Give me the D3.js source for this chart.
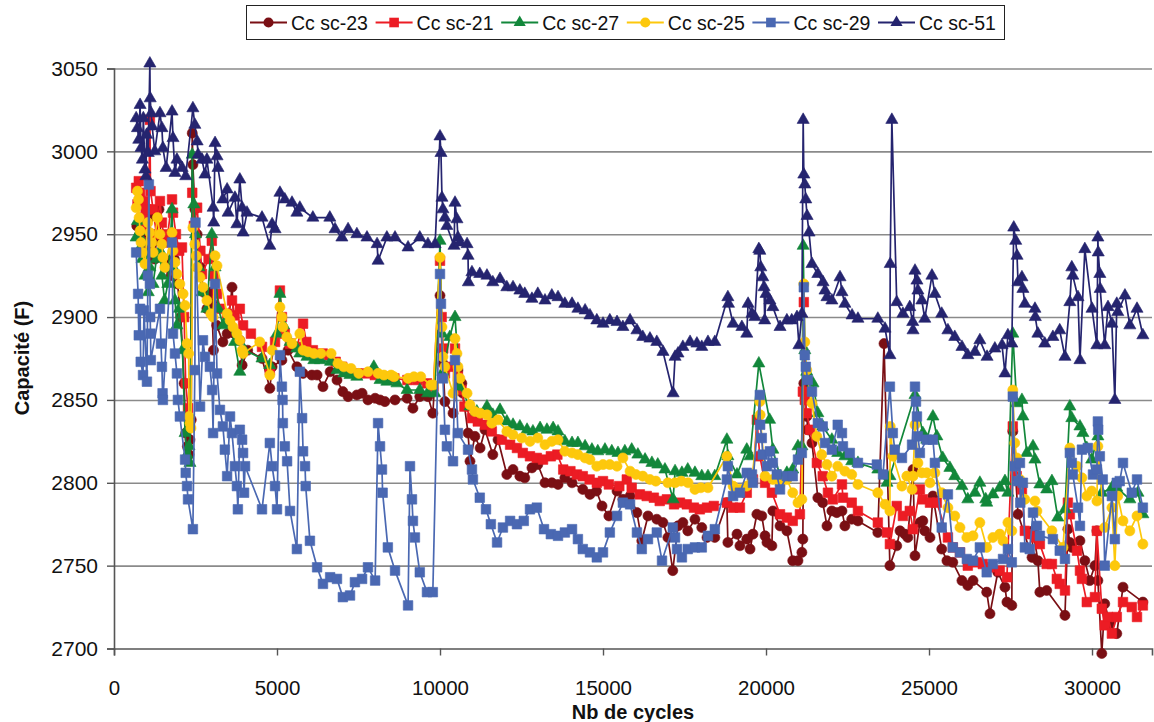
<!DOCTYPE html>
<html>
<head>
<meta charset="utf-8">
<script src="https://cdn.jsdelivr.net/npm/d3@7"></script>
<style>
  body { margin: 0; background: #fff; }
  svg { display: block; font-family: "Liberation Sans", Arial, sans-serif; }
</style>
</head>
<body>
<svg id="chart" width="1154" height="722"></svg>
<script>
// [nb de cycles, capacité (F)]
const sc23 = [[700,2955],[780,2948],[850,2940],[920,2950],[1000,2945],[1080,2960],[1150,2940],[1250,2935],[1380,2965],[1450,2945],[1550,2935],[1650,2930],[1750,2925],[1850,2935],[1950,2920],[2050,2900],[2150,2860],[2200,2830],[2250,2822],[2300,2817],[2330,2826],[2370,2838],[2400,3011],[2420,2992],[2480,2965],[2550,2950],[2650,2930],[2750,2915],[2850,2905],[2950,2915],[3000,2909],[3050,2880],[3150,2895],[3340,2885],[3470,2890],[3620,2918],[3700,2890],[3860,2886],[3930,2871],[4100,2880],[4540,2875],[4780,2857],[4850,2870],[5150,2874],[5340,2880],[5610,2870],[5800,2866],[6070,2865],[6230,2865],[6410,2858],[6630,2867],[6840,2862],[7020,2855],[7180,2852],[7450,2853],[7610,2854],[7790,2850],[8010,2851],[8160,2850],[8310,2849],[8620,2850],[8990,2851],[9170,2845],[9380,2852],[9630,2852],[9780,2842],[10000,2913],[10060,2880],[10090,2872],[10150,2849],[10400,2842],[10550,2868],[10670,2860],[10700,2854],[10860,2830],[10920,2813],[11070,2828],[11230,2821],[11380,2832],[11620,2817],[11780,2826],[12050,2805],[12240,2808],[12450,2804],[12600,2803],[12820,2809],[13000,2811],[13220,2800],[13430,2800],[13620,2799],[13830,2803],[14050,2800],[14380,2796],[14600,2793],[14800,2795],[14970,2786],[15180,2780],[15430,2795],[15610,2790],[15830,2792],[16040,2782],[16190,2765],[16380,2780],[16650,2778],[16840,2776],[16990,2767],[17140,2747],[17300,2774],[17450,2776],[17600,2771],[17820,2778],[18030,2773],[18190,2767],[18430,2767],[18800,2788],[18830,2764],[19110,2769],[19200,2762],[19410,2766],[19510,2760],[19600,2769],[19720,2781],[19870,2780],[19970,2768],[20030,2764],[20180,2762],[20210,2783],[20430,2774],[20640,2771],[20820,2753],[20980,2753],[21100,2758],[21130,2766],[21160,2860],[21190,2854],[21250,2840],[21280,2832],[21410,2824],[21590,2791],[21740,2788],[21870,2774],[22020,2783],[22170,2782],[22330,2783],[22420,2774],[22630,2778],[22820,2777],[23430,2770],[23620,2884],[23800,2750],[24010,2762],[24110,2771],[24260,2769],[24350,2767],[24510,2808],[24570,2756],[24720,2776],[24810,2777],[24870,2771],[25030,2767],[25120,2792],[25390,2760],[25550,2753],[25730,2752],[26010,2741],[26190,2738],[26350,2741],[26770,2734],[26870,2721],[27110,2746],[27330,2737],[27390,2728],[27540,2726],[27570,2831],[27730,2781],[28160,2755],[28190,2771],[28340,2753],[28400,2734],[28610,2735],[29170,2720],[29260,2772],[29320,2764],[29380,2761],[29630,2765],[29780,2753],[29930,2741],[30090,2750],[30150,2771],[30180,2741],[30300,2697],[30390,2727],[30550,2715],[30760,2709],[30950,2737],[31560,2728]];

const sc21 = [[680,2978],[720,2968],[760,2982],[800,2975],[850,2960],[900,2970],[950,2955],[1000,2965],[1050,2945],[1100,3019],[1120,2976],[1200,2965],[1300,2950],[1410,2970],[1470,2957],[1550,2945],[1650,2950],[1780,2971],[1810,2963],[1900,2950],[2000,2940],[2085,2942],[2150,2900],[2200,2860],[2270,2845],[2330,2835],[2400,2975],[2450,2955],[2550,2966],[2650,2940],[2700,2926],[2900,2935],[3000,2946],[3060,2925],[3160,2914],[3250,2905],[3470,2902],[3620,2910],[3700,2901],[3860,2905],[3960,2895],[4200,2890],[4540,2882],[4780,2868],[4940,2885],[5090,2916],[5150,2900],[5240,2890],[5400,2884],[5610,2882],[5800,2896],[5900,2885],[6100,2880],[6400,2878],[6600,2877],[6800,2873],[7000,2870],[7200,2868],[7450,2866],[7700,2866],[8000,2865],[8300,2864],[8600,2863],[9000,2862],[9300,2862],[9600,2860],[9800,2858],[10000,2934],[10050,2900],[10100,2881],[10150,2866],[10400,2870],[10460,2881],[10550,2864],[10660,2856],[10750,2846],[10980,2839],[11160,2837],[11380,2835],[11590,2831],[11900,2826],[12150,2823],[12360,2821],[12540,2818],[12760,2816],[12970,2815],[13160,2814],[13400,2816],[13600,2817],[13780,2808],[14000,2807],[14200,2805],[14380,2804],[14590,2802],[14810,2800],[15000,2801],[15180,2799],[15500,2798],[15730,2802],[15880,2797],[16130,2793],[16340,2792],[16560,2791],[16740,2789],[16960,2790],[17180,2787],[17360,2788],[17570,2787],[17790,2785],[17970,2784],[18190,2785],[18400,2786],[18800,2788],[18990,2785],[19200,2785],[19410,2794],[19600,2802],[19720,2838],[19810,2816],[19970,2800],[20180,2794],[20430,2781],[20640,2779],[20820,2777],[21040,2781],[21130,2855],[21160,2909],[21190,2850],[21250,2842],[21350,2832],[21560,2812],[21740,2804],[21900,2794],[22050,2790],[22330,2799],[22360,2791],[22630,2788],[22820,2783],[23430,2776],[23710,2770],[23800,2763],[24010,2786],[24200,2780],[24410,2783],[24510,2772],[24720,2796],[24810,2790],[25030,2788],[25240,2788],[25580,2767],[25730,2761],[25950,2758],[26190,2750],[26470,2752],[26650,2751],[26870,2749],[27170,2747],[27390,2743],[27570,2834],[27690,2804],[27850,2796],[27940,2771],[28090,2769],[28250,2767],[28400,2763],[28610,2751],[28770,2751],[28920,2742],[29010,2739],[29170,2735],[29260,2788],[29320,2781],[29540,2759],[29630,2747],[29690,2742],[29840,2728],[30090,2731],[30150,2771],[30300,2724],[30390,2714],[30490,2719],[30610,2709],[30760,2719],[30950,2728],[31220,2725],[31380,2719],[31560,2726]];

const sc27 = [[680,2948],[720,2958],[760,2940],[800,2952],[860,2935],[900,2945],[950,2925],[1000,2938],[1050,2915],[1100,2930],[1200,2920],[1300,2935],[1410,2940],[1470,2925],[1550,2910],[1650,2920],[1780,2965],[1810,2930],[1870,2910],[1930,2895],[2000,2905],[2100,2880],[2180,2830],[2240,2817],[2300,2822],[2330,2812],[2400,2998],[2450,2968],[2500,2950],[2600,2930],[2700,2915],[2850,2905],[3000,2950],[3100,2930],[3200,2905],[3350,2895],[3500,2900],[3700,2885],[3860,2867],[4000,2880],[4540,2875],[4780,2871],[5000,2890],[5090,2914],[5200,2895],[5400,2885],[5610,2881],[5700,2878],[5920,2876],[6130,2874],[6330,2874],[6640,2873],[6840,2868],[7050,2866],[7240,2865],[7450,2864],[7970,2870],[8160,2862],[8370,2861],[8680,2860],[8990,2856],[9380,2856],[9620,2854],[9840,2854],[10000,2946],[10060,2890],[10090,2867],[10300,2888],[10460,2900],[10610,2858],[10920,2846],[11130,2843],[11440,2846],[11620,2841],[11840,2844],[12050,2837],[12240,2835],[12450,2834],[12670,2832],[12850,2831],[13070,2833],[13280,2832],[13470,2833],[13620,2831],[13830,2825],[14050,2824],[14230,2824],[14450,2822],[14660,2820],[14840,2819],[15060,2820],[15270,2819],[15460,2818],[15670,2819],[15880,2820],[16070,2817],[16290,2814],[16500,2812],[16680,2811],[16900,2808],[17150,2790],[17210,2807],[17420,2806],[17600,2808],[17820,2806],[18030,2804],[18220,2804],[18430,2804],[18800,2826],[18830,2816],[19110,2805],[19410,2820],[19510,2816],[19780,2872],[20110,2838],[20210,2820],[20430,2804],[20640,2806],[20820,2808],[20980,2822],[21100,2822],[21140,2943],[21190,2880],[21250,2867],[21440,2860],[21590,2842],[21740,2834],[22020,2826],[22200,2818],[22420,2816],[22630,2813],[22820,2812],[23430,2808],[23710,2800],[23800,2804],[24570,2853],[24810,2830],[24930,2826],[25120,2840],[25240,2828],[25420,2815],[25640,2809],[25790,2804],[26010,2798],[26190,2790],[26410,2794],[26560,2800],[26740,2790],[26770,2788],[26960,2793],[27170,2797],[27330,2801],[27420,2794],[27570,2890],[27690,2848],[27850,2850],[27880,2840],[28000,2818],[28190,2822],[28250,2814],[28400,2799],[28610,2796],[28770,2801],[28950,2779],[29170,2784],[29320,2846],[29380,2839],[29630,2834],[29720,2830],[29840,2821],[29990,2814],[30180,2828],[30300,2794],[30610,2797],[30760,2797],[31160,2790],[31410,2794],[31560,2781]];

const sc25 = [[680,2966],[720,2976],[750,2971],[770,2960],[800,2952],[830,2945],[870,2939],[950,2932],[1040,2957],[1100,2951],[1160,2945],[1200,2939],[1330,2960],[1410,2950],[1470,2944],[1500,2936],[1560,2930],[1780,2951],[1810,2940],[1870,2933],[1930,2926],[2020,2920],[2120,2914],[2180,2907],[2240,2884],[2290,2878],[2300,2840],[2330,2836],[2360,2833],[2420,2954],[2480,2944],[2520,2937],[2550,2930],[2640,2924],[2730,2918],[2850,2910],[2970,2902],[3040,2900],[3100,2937],[3160,2931],[3470,2902],[3560,2898],[3650,2894],[3770,2890],[3860,2886],[3930,2880],[3960,2878],[4470,2885],[4780,2865],[4850,2880],[5090,2906],[5150,2900],[5180,2894],[5300,2888],[5460,2884],[5700,2890],[5800,2880],[5950,2879],[6130,2878],[6350,2878],[6660,2878],[6870,2872],[7050,2870],[7270,2869],[7510,2866],[7790,2867],[8100,2866],[8280,2865],[8500,2865],[8590,2864],[9020,2863],[9200,2864],[9410,2864],[9720,2859],[9800,2859],[10000,2936],[10060,2894],[10090,2876],[10150,2870],[10400,2854],[10460,2887],[10520,2878],[10550,2870],[10610,2863],[10830,2854],[10920,2847],[11070,2843],[11230,2842],[11440,2841],[11590,2836],[11780,2838],[12050,2831],[12240,2829],[12510,2827],[12760,2825],[13000,2827],[13220,2823],[13430,2825],[13620,2826],[13830,2819],[14050,2818],[14230,2817],[14450,2815],[14600,2814],[14810,2810],[15000,2811],[15210,2811],[15430,2810],[15610,2815],[15830,2807],[16010,2805],[16220,2804],[16440,2802],[16620,2801],[16990,2800],[17210,2800],[17400,2801],[17610,2800],[17820,2796],[18000,2797],[18220,2797],[18800,2816],[18990,2798],[19200,2796],[19410,2798],[19570,2802],[19810,2849],[19820,2841],[19970,2804],[20210,2802],[20430,2799],[20640,2802],[20820,2794],[20980,2788],[21100,2790],[21160,2920],[21190,2885],[21250,2868],[21410,2848],[21560,2828],[21710,2817],[21870,2811],[22020,2804],[22200,2810],[22420,2807],[22630,2805],[22820,2799],[23430,2794],[23650,2787],[23800,2783],[23810,2834],[23890,2816],[24170,2798],[24320,2804],[24480,2796],[24510,2804],[24570,2835],[24660,2812],[24780,2806],[24930,2806],[25030,2800],[25180,2806],[25390,2794],[25580,2785],[25790,2780],[25950,2773],[26160,2767],[26350,2768],[26560,2776],[26770,2761],[26960,2767],[27170,2769],[27270,2765],[27420,2776],[27540,2771],[27570,2856],[27630,2824],[27690,2815],[27790,2802],[27940,2790],[28250,2789],[28310,2783],[28770,2771],[29110,2761],[29320,2821],[29540,2810],[29690,2803],[29840,2792],[29990,2795],[30150,2789],[30180,2822],[30390,2773],[30610,2785],[30700,2750],[30790,2792],[30950,2777],[31160,2771],[31380,2780],[31560,2763]];

const sc29 = [[680,2939],[740,2914],[760,2889],[800,2905],[820,2873],[890,2865],[920,2904],[1010,2861],[1040,2925],[1070,2980],[1100,2920],[1110,2900],[1120,2890],[1130,2874],[1410,2905],[1440,2884],[1470,2870],[1490,2854],[1500,2850],[1780,2945],[1810,2890],[1870,2878],[1930,2866],[1960,2850],[2020,2840],[2180,2814],[2200,2806],[2240,2798],[2270,2790],[2420,2772],[2480,2868],[2500,2957],[2640,2846],[2730,2886],[2790,2876],[2940,2870],[3010,2856],[3040,2830],[3100,2920],[3160,2866],[3250,2844],[3340,2834],[3400,2820],[3470,2804],[3560,2840],[3620,2830],[3710,2810],[3770,2798],[3800,2784],[3860,2832],[3930,2826],[3960,2818],[3990,2794],[4020,2810],[4540,2784],[4780,2824],[4850,2810],[4940,2798],[5000,2784],[5090,2877],[5150,2858],[5170,2850],[5180,2836],[5240,2822],[5310,2813],[5400,2783],[5610,2760],[5700,2867],[5770,2839],[5800,2819],[5860,2810],[5880,2798],[6010,2765],[6230,2749],[6410,2739],[6630,2743],[6840,2742],[7020,2731],[7240,2732],[7390,2740],[7610,2742],[7790,2749],[8010,2741],[8100,2836],[8160,2822],[8220,2808],[8240,2794],[8400,2761],[8620,2747],[9020,2726],[9080,2810],[9140,2790],[9170,2777],[9230,2767],[9380,2746],[9600,2734],[9780,2734],[10000,2926],[10030,2908],[10090,2863],[10150,2832],[10210,2822],[10400,2813],[10460,2874],[10550,2830],[10860,2820],[10980,2808],[11010,2802],[11220,2791],[11410,2784],[11560,2775],[11750,2764],[11930,2773],[12150,2777],[12360,2775],[12570,2777],[12760,2784],[12970,2785],[13190,2772],[13400,2769],[13620,2768],[13830,2770],[14050,2772],[14230,2766],[14380,2760],[14600,2758],[14810,2755],[15000,2758],[15210,2770],[15430,2780],[15610,2788],[15830,2787],[16040,2770],[16190,2760],[16380,2766],[16650,2770],[16810,2753],[17140,2773],[17210,2767],[17270,2760],[17420,2755],[17600,2760],[17820,2761],[18030,2761],[18220,2768],[18430,2772],[18800,2802],[18830,2810],[18990,2792],[19200,2794],[19410,2806],[19570,2805],[19600,2800],[19810,2853],[19820,2835],[19870,2827],[19900,2817],[20030,2810],[20120,2819],[20210,2812],[20330,2805],[20430,2796],[20640,2804],[20820,2804],[20980,2814],[21100,2818],[21160,2918],[21190,2877],[21220,2870],[21280,2862],[21410,2855],[21590,2836],[21740,2834],[21810,2824],[22020,2820],[22200,2835],[22330,2830],[22360,2822],[22570,2818],[22820,2812],[23400,2811],[23590,2805],[23800,2858],[23890,2830],[23950,2820],[24170,2815],[24480,2823],[24570,2858],[24600,2849],[24630,2840],[24660,2828],[24720,2818],[24930,2826],[25120,2826],[25180,2812],[25390,2773],[25580,2793],[25730,2761],[25950,2758],[26160,2754],[26350,2753],[26560,2761],[26770,2746],[26960,2751],[27270,2754],[27420,2760],[27540,2752],[27570,2852],[27630,2810],[27730,2801],[27790,2812],[27800,2788],[27880,2800],[27940,2761],[28090,2760],[28190,2782],[28310,2774],[28400,2768],[28800,2766],[29010,2759],[29170,2754],[29320,2818],[29380,2812],[29410,2805],[29570,2785],[29630,2774],[29690,2820],[29870,2821],[30030,2805],[30150,2808],[30180,2837],[30190,2832],[30240,2816],[30330,2802],[30390,2750],[30610,2792],[30700,2766],[30760,2800],[30850,2801],[30950,2812],[31220,2794],[31380,2802],[31560,2785]];

const sc51 = [[680,3020],[720,3014],[760,3007],[800,3028],[830,3002],[870,2995],[900,3020],[950,2989],[980,2985],[1000,3010],[1050,2999],[1100,3053],[1110,3032],[1140,3023],[1170,3015],[1250,3000],[1410,3023],[1470,3014],[1500,3002],[1600,2990],[1780,3024],[1810,3008],[1870,2987],[1930,2995],[2090,2990],[2200,2985],[2420,3026],[2480,3016],[2550,3006],[2580,2998],[2700,2995],[2790,2986],[2850,2995],[3040,2966],[3060,2957],[3100,3005],[3160,2997],[3190,2990],[3340,2971],[3470,2977],[3500,2963],[3710,2972],[3770,2956],[3860,2983],[3930,2966],[3960,2951],[4080,2963],[4540,2960],[4780,2943],[4850,2956],[4940,2953],[5090,2975],[5240,2971],[5460,2969],[5610,2963],[5700,2966],[6100,2960],[6620,2960],[6780,2953],[6990,2948],[7180,2953],[7450,2950],[7760,2948],[8070,2944],[8100,2934],[8370,2948],[8620,2948],[9020,2942],[9380,2948],[9630,2944],[9850,2944],[10000,3009],[10030,2999],[10060,2972],[10090,2965],[10150,2960],[10210,2955],[10430,2943],[10460,2969],[10520,2959],[10550,2948],[10610,2945],[10830,2944],[10860,2937],[10870,2921],[10980,2927],[11220,2926],[11440,2925],[11620,2921],[11840,2923],[12050,2918],[12240,2918],[12450,2916],[12600,2914],[12820,2911],[13000,2914],[13220,2910],[13430,2913],[13620,2912],[13830,2908],[14050,2908],[14230,2905],[14450,2904],[14600,2901],[14810,2898],[15000,2896],[15210,2898],[15430,2897],[15610,2894],[15830,2898],[16040,2892],[16220,2888],[16440,2887],[16650,2885],[16840,2879],[17150,2854],[17210,2876],[17300,2878],[17450,2882],[17670,2885],[17880,2884],[18030,2882],[18220,2885],[18430,2885],[18830,2912],[18850,2908],[18990,2896],[19260,2894],[19410,2890],[19450,2908],[19570,2902],[19660,2900],[19780,2941],[19810,2940],[19840,2930],[19900,2924],[19940,2918],[19960,2898],[20000,2914],[20120,2910],[20210,2906],[20430,2894],[20640,2898],[20790,2898],[20950,2900],[21010,2883],[21100,2902],[21140,3019],[21160,2986],[21190,2980],[21220,2971],[21260,2961],[21320,2951],[21410,2932],[21590,2926],[21750,2921],[21810,2916],[21870,2912],[22020,2910],[22270,2924],[22330,2915],[22420,2908],[22640,2901],[22820,2899],[23430,2899],[23650,2893],[23800,2877],[23810,2932],[23860,3019],[24010,2909],[24200,2902],[24410,2906],[24500,2897],[24510,2892],[24570,2928],[24630,2922],[24660,2916],[24780,2910],[24870,2899],[25090,2925],[25180,2914],[25390,2902],[25580,2892],[25790,2888],[26010,2882],[26190,2877],[26410,2879],[26560,2886],[26780,2876],[27020,2881],[27240,2883],[27330,2866],[27420,2889],[27540,2884],[27600,2954],[27660,2946],[27700,2937],[27730,2921],[27850,2924],[27880,2917],[27940,2908],[28250,2905],[28260,2900],[28340,2890],[28550,2884],[28800,2888],[29010,2892],[29170,2876],[29320,2909],[29380,2930],[29410,2925],[29570,2912],[29630,2874],[29780,2941],[30000,2905],[30150,2883],[30180,2948],[30190,2939],[30240,2926],[30250,2917],[30390,2883],[30490,2906],[30610,2896],[30700,2850],[30760,2908],[30790,2903],[31010,2913],[31160,2895],[31380,2905],[31560,2889]];

const seriesNames = ["Cc sc-23", "Cc sc-21", "Cc sc-27", "Cc sc-25", "Cc sc-29", "Cc sc-51"];
const cycleTicks = [0, 5000, 10000, 15000, 20000, 25000, 30000];
const capTicks = [2700, 2750, 2800, 2850, 2900, 2950, 3000, 3050];

const series = [
  { name: seriesNames[0], data: sc23, color: "#7a0f14", shape: d3.symbolCircle, size: 80 },
  { name: seriesNames[1], data: sc21, color: "#ec1c24", shape: d3.symbolSquare, size: 92 },
  { name: seriesNames[2], data: sc27, color: "#12873a", shape: d3.symbolTriangle, size: 64 },
  { name: seriesNames[3], data: sc25, color: "#fdc80c", shape: d3.symbolCircle, size: 80 },
  { name: seriesNames[4], data: sc29, color: "#4a68b2", shape: d3.symbolSquare, size: 92 },
  { name: seriesNames[5], data: sc51, color: "#25246f", shape: d3.symbolTriangle, size: 64 }
];

const plot = { left: 114, right: 1152, top: 68.5, bottom: 648.5 };
const svg = d3.select("#chart");

const x = d3.scaleLinear().domain([0, 31840]).range([plot.left, plot.right]);
const y = d3.scaleLinear().domain([2700, 3050]).range([plot.bottom, plot.top]);

// horizontal gridlines
svg.append("g")
  .attr("transform", `translate(${plot.left},0)`)
  .call(d3.axisLeft(y).tickValues(capTicks.slice(1)).tickSize(-(plot.right - plot.left)).tickFormat(""))
  .call(g => g.select(".domain").remove())
  .selectAll("line").attr("stroke", "#8a8a8a").attr("stroke-width", 1.6);

// y axis
const yAxis = svg.append("g")
  .attr("transform", `translate(${plot.left},0)`)
  .call(d3.axisLeft(y).tickValues(capTicks).tickSize(7).tickPadding(9).tickFormat(d3.format("d")));
yAxis.select(".domain").attr("stroke", "#555").attr("stroke-width", 1.6);
yAxis.selectAll(".tick line").attr("stroke", "#555").attr("stroke-width", 1.4);
yAxis.selectAll(".tick text").style("font-size", "21px").attr("fill", "#111");

// x axis
const xAxis = svg.append("g")
  .attr("transform", `translate(0,${plot.bottom})`)
  .call(d3.axisBottom(x).tickValues(cycleTicks).tickSize(7).tickPadding(25).tickFormat(d3.format("d")));
xAxis.select(".domain").attr("stroke", "#555").attr("stroke-width", 1.6);
xAxis.selectAll(".tick line").attr("stroke", "#555").attr("stroke-width", 1.4);
xAxis.selectAll(".tick text").style("font-size", "20.5px").attr("fill", "#111");

// axis titles
svg.append("text")
  .attr("x", 633).attr("y", 719)
  .attr("text-anchor", "middle")
  .style("font-size", "20px").style("font-weight", "bold").attr("fill", "#111")
  .text("Nb de cycles");
svg.append("text")
  .attr("transform", "translate(29,358) rotate(-90)")
  .attr("text-anchor", "middle")
  .style("font-size", "20px").style("font-weight", "bold").attr("fill", "#111")
  .text("Capacité (F)");

// series: line then markers, drawn in legend order
const line = d3.line().x(d => x(d[0])).y(d => y(d[1]));
series.forEach(s => {
  const g = svg.append("g");
  g.append("path")
    .datum(s.data)
    .attr("d", line)
    .attr("fill", "none")
    .attr("stroke", s.color)
    .attr("stroke-width", 1.7)
    .attr("stroke-linejoin", "round");
  g.selectAll("path.mk").data(s.data).enter().append("path")
    .attr("class", "mk")
    .attr("transform", d => `translate(${x(d[0])},${y(d[1])})`)
    .attr("d", d3.symbol().type(s.shape).size(s.size))
    .attr("fill", s.color)
    .attr("stroke", s.color).attr("stroke-width", 0.6);
});

// legend
const legend = svg.append("g");
legend.append("rect")
  .attr("x", 246.5).attr("y", 5.5).attr("width", 758).attr("height", 34)
  .attr("fill", "#fff").attr("stroke", "#222").attr("stroke-width", 1);
series.forEach((s, i) => {
  const lx = 250 + i * 125.6, ly = 22.5;
  const item = legend.append("g").attr("transform", `translate(${lx},${ly})`);
  item.append("line").attr("x1", 0).attr("x2", 37).attr("y1", 0).attr("y2", 0)
    .attr("stroke", s.color).attr("stroke-width", 1.8);
  item.append("path").attr("transform", "translate(18.5,0)")
    .attr("d", d3.symbol().type(s.shape).size(s.size)).attr("fill", s.color);
  item.append("text").attr("x", 41).attr("y", 7)
    .style("font-size", "19.5px").attr("fill", "#111")
    .text(s.name);
});
</script>
</body>
</html>
